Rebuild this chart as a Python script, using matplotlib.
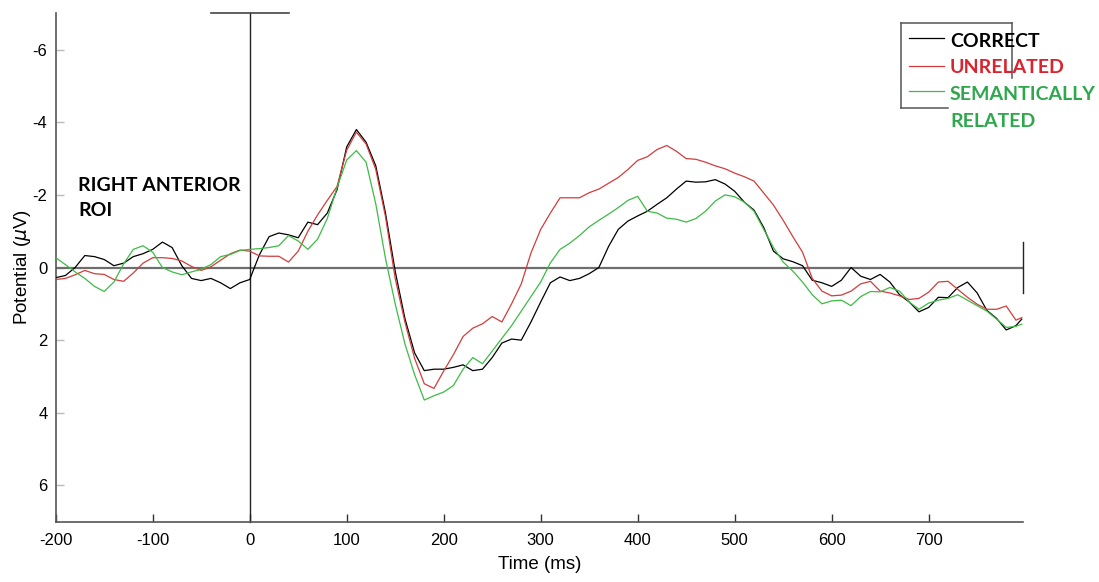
import numpy as np
import matplotlib
matplotlib.use("Agg")
import matplotlib.pyplot as plt
from matplotlib.lines import Line2D

plt.rcParams['font.family'] = ['Liberation Sans', 'DejaVu Sans']
plt.rcParams['axes.unicode_minus'] = False

# tiempo (ms), muestras cada 10 ms
tiempo = np.append(np.arange(-200, 800, 10), 796)

correct = [0.28, 0.22, 0.0, -0.33, -0.3, -0.22, -0.05, -0.12, -0.3, -0.38,
           -0.5, -0.7, -0.55, -0.05, 0.3, 0.36, 0.3, 0.42, 0.58, 0.42,
           0.33, -0.35, -0.85, -0.95, -0.9, -0.82, -1.25, -1.18, -1.5, -2.14,
           -3.32, -3.8, -3.45, -2.8, -1.5, 0.1, 1.4, 2.35, 2.84, 2.8,
           2.8, 2.75, 2.68, 2.84, 2.8, 2.48, 2.08, 1.97, 2.0, 1.5,
           0.95, 0.42, 0.26, 0.36, 0.3, 0.17, 0.0, -0.58, -1.05, -1.28,
           -1.42, -1.55, -1.74, -1.92, -2.16, -2.38, -2.35, -2.36, -2.42, -2.3,
           -2.1, -1.8, -1.58, -1.1, -0.45, -0.24, -0.16, -0.05, 0.35, 0.42,
           0.52, 0.35, 0.0, 0.24, 0.33, 0.19, 0.4, 0.75, 0.95, 1.22,
           1.1, 0.82, 0.83, 0.55, 0.4, 0.7, 1.18, 1.4, 1.72, 1.6, 1.42]

unrelated = [0.33, 0.3, 0.2, 0.08, 0.17, 0.19, 0.33, 0.38, 0.15, -0.12,
             -0.27, -0.27, -0.25, -0.18, -0.03, 0.08, -0.02, -0.2, -0.38, -0.48,
             -0.45, -0.32, -0.31, -0.31, -0.15, -0.45, -1.0, -1.45, -1.85, -2.23,
             -3.23, -3.73, -3.4, -2.7, -1.4, 0.3, 1.5, 2.5, 3.2, 3.33,
             2.85, 2.4, 1.9, 1.67, 1.55, 1.35, 1.5, 1.0, 0.45, -0.4,
             -1.05, -1.5, -1.92, -1.92, -1.92, -2.06, -2.16, -2.32, -2.48, -2.7,
             -2.95, -3.05, -3.25, -3.36, -3.2, -3.0, -2.98, -2.9, -2.8, -2.72,
             -2.6, -2.5, -2.38, -2.05, -1.72, -1.3, -0.85, -0.42, 0.3, 0.65,
             0.78, 0.76, 0.65, 0.45, 0.38, 0.65, 0.7, 0.78, 0.88, 0.85,
             0.68, 0.4, 0.38, 0.6, 0.82, 1.01, 1.15, 1.15, 1.06, 1.45, 1.38]

semantic = [-0.27, -0.08, 0.12, 0.3, 0.52, 0.66, 0.4, -0.1, -0.5, -0.6,
            -0.42, 0.0, 0.12, 0.2, 0.12, 0.05, -0.08, -0.3, -0.36, -0.47,
            -0.5, -0.52, -0.55, -0.6, -0.88, -0.73, -0.5, -0.78, -1.35, -2.2,
            -2.96, -3.22, -2.9, -1.75, -0.25, 1.0, 2.1, 2.95, 3.65, 3.53,
            3.43, 3.25, 2.8, 2.48, 2.65, 2.3, 1.95, 1.6, 1.2, 0.8,
            0.4, -0.13, -0.5, -0.67, -0.88, -1.12, -1.3, -1.47, -1.65, -1.85,
            -1.96, -1.55, -1.5, -1.36, -1.33, -1.25, -1.35, -1.55, -1.83, -2.0,
            -1.95, -1.8, -1.55, -1.05, -0.55, -0.15, 0.1, 0.4, 0.75, 1.0,
            0.92, 0.9, 1.05, 0.8, 0.66, 0.67, 0.55, 0.65, 0.95, 1.15,
            0.98, 0.9, 0.85, 0.75, 0.9, 1.05, 1.2, 1.42, 1.65, 1.62, 1.56]

series = [("CORRECT", correct, "#000000", "#000000"),
          ("UNRELATED", unrelated, "#d23c3c", "#d9242f"),
          ("SEMANTICALLY", semantic, "#3dbb45", "#2ea84c")]

xmin, xmax = -200, 797
ymin, ymax = -7, 7

fig = plt.figure(figsize=(10.99, 5.82), dpi=100)
ax = fig.add_axes([0.0507, 0.1036, 0.9306 - 0.0507, 0.9771 - 0.1036])

for nombre, valores, color, _ in series:
    ax.plot(tiempo, valores, color=color, lw=0.9, zorder=3)

# lineas de referencia
ax.axhline(0, color="#6e6e6e", lw=1.6, zorder=2)
ax.plot([0, 0], [ymin, ymax], color="#222222", lw=1.0, clip_on=False, zorder=2)
ax.plot([-40, 40], [ymin, ymin], color="#444444", lw=1.2, clip_on=False)
ax.plot([xmax, xmax], [-0.7, 0.7], color="#222222", lw=1.0, clip_on=False)

ax.set_xlim(xmin, xmax)
ax.set_ylim(ymax, ymin)
ax.set_xticks(range(-200, 800, 100))
ax.set_yticks([-6, -4, -2, 0, 2, 4, 6])
ax.tick_params(axis="x", direction="in", length=6, width=1, color="#333333",
               labelsize=12, pad=8)
ax.tick_params(axis="y", direction="in", length=6, width=1, color="#bbbbbb",
               labelsize=12, pad=6)
for s in ["top", "right"]:
    ax.spines[s].set_visible(False)
for s in ["left", "bottom"]:
    ax.spines[s].set_color("#555555")
    ax.spines[s].set_linewidth(1.2)

ax.set_xlabel("Time (ms)", fontsize=13.5, labelpad=6)
ax.set_ylabel(r"Potential ($\mu$V)", fontsize=13.5, labelpad=0)

ax.text(-176.6, -2.12, "RIGHT ANTERIOR", fontsize=14, fontweight="bold",
        family="Lato", va="baseline", ha="left")
ax.text(-176.6, -1.42, "ROI", fontsize=14, fontweight="bold",
        family="Lato", va="baseline", ha="left")

# leyenda dibujada a mano
caja = "#555555"
fig.add_artist(Line2D([0.8196, 0.9206], [0.960, 0.960], color=caja, lw=1.1))
fig.add_artist(Line2D([0.8196, 0.8196], [0.960, 0.815], color=caja, lw=1.1))
fig.add_artist(Line2D([0.9206, 0.9206], [0.960, 0.866], color=caja, lw=1.1))
fig.add_artist(Line2D([0.8196, 0.8626], [0.815, 0.815], color=caja, lw=1.1))

ys_linea = [0.9347, 0.8871, 0.8436]
ys_texto = [0.9198, 0.874, 0.8282]
for (nombre, _, color, ctexto), yl, yt in zip(series, ys_linea, ys_texto):
    fig.add_artist(Line2D([0.827, 0.859], [yl, yl], color=color, lw=0.9))
    fig.text(0.8644, yt, nombre, color=ctexto, fontsize=14, fontweight="bold",
             family="Lato", va="baseline")
fig.text(0.8644, 0.7823, "RELATED", color=series[2][3], fontsize=14,
         fontweight="bold", family="Lato", va="baseline")

fig.savefig("out.png", dpi=100)
